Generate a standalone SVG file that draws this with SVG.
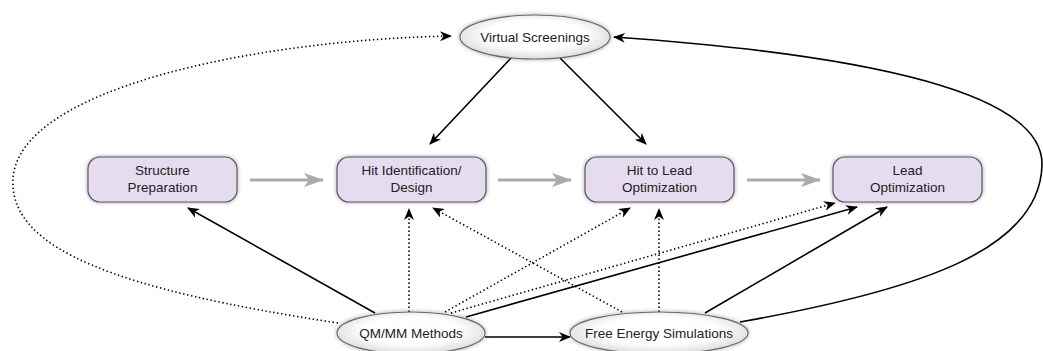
<svg xmlns="http://www.w3.org/2000/svg" width="1043" height="351" viewBox="0 0 1043 351">
  <defs>
    <style>
      .box { fill: #e6dcf0; stroke: #5a5560; stroke-width: 1.2; filter: url(#glow); }
      .oval { fill: url(#ovalFill); stroke: #6a6a6a; stroke-width: 1.2; filter: url(#glow); }
      .lbl { font-family: "Liberation Sans", Arial, sans-serif; font-size: 13.5px; fill: #222; text-anchor: middle; }
      .solid { fill: none; stroke: #000; stroke-width: 1.6; marker-end: url(#head); }
      .dot { fill: none; stroke: #000; stroke-width: 1.6; stroke-dasharray: 1.4 2.6; marker-end: url(#head); }
      .flow { fill: none; stroke: #ababab; stroke-width: 3; marker-end: url(#grayHead); }
    </style>
    <radialGradient id="ovalFill" cx="50%" cy="45%" r="55%">
      <stop offset="0.6" stop-color="#ffffff"/>
      <stop offset="1" stop-color="#dcdcdc"/>
    </radialGradient>
    <filter id="glow" x="-20%" y="-40%" width="140%" height="180%">
      <feGaussianBlur in="SourceAlpha" stdDeviation="2"/>
      <feComponentTransfer><feFuncA type="linear" slope="0.35"/></feComponentTransfer>
      <feMerge><feMergeNode/><feMergeNode in="SourceGraphic"/></feMerge>
    </filter>
    <marker id="head" viewBox="0 0 12 10" refX="11" refY="5" markerWidth="12" markerHeight="10" markerUnits="userSpaceOnUse" orient="auto">
      <path d="M0,0 L12,5 L0,10 L3.5,5 z" fill="#000"/>
    </marker>
    <marker id="grayHead" viewBox="0 0 20 14" refX="19" refY="7" markerWidth="20" markerHeight="14" markerUnits="userSpaceOnUse" orient="auto">
      <path d="M0,0 L20,7 L0,14 L5,7 z" fill="#ababab"/>
    </marker>
  </defs>

  <!-- connectors -->
  <g id="connectors">
    <!-- pipeline flow -->
    <line class="flow" x1="250" y1="180" x2="323" y2="180"/>
    <line class="flow" x1="498" y1="180" x2="571" y2="180"/>
    <line class="flow" x1="747" y1="180" x2="820" y2="180"/>
    <!-- from Virtual Screenings -->
    <line class="solid" x1="511" y1="58" x2="430" y2="144"/>
    <line class="solid" x1="560" y1="58" x2="646" y2="144"/>
    <!-- from QM/MM Methods -->
    <line class="solid" x1="375" y1="313" x2="188" y2="208"/>
    <line class="dot" x1="409" y1="312" x2="409" y2="209"/>
    <line class="dot" x1="445" y1="312" x2="630" y2="208"/>
    <line class="dot" x1="451" y1="313" x2="835" y2="203"/>
    <line class="solid" x1="466" y1="317" x2="857" y2="207"/>
    <line class="solid" x1="485" y1="337" x2="570" y2="337"/>
    <path class="dot" d="M338,323 C120,290 10,250 13,180 C16,90 250,40 451,36"/>
    <!-- from Free Energy Simulations -->
    <line class="dot" x1="622" y1="312" x2="433" y2="208"/>
    <line class="dot" x1="659" y1="312" x2="659" y2="209"/>
    <line class="solid" x1="705" y1="313" x2="887" y2="207"/>
    <path class="solid" d="M740,322 C920,290 1040,250 1042,165 C1044,80 800,50 614,37"/>
  </g>

  <g id="virtual-screenings">
    <ellipse class="oval" cx="535" cy="37" rx="75" ry="22"/>
    <text class="lbl" x="535" y="42">Virtual Screenings</text>
  </g>

  <g id="structure-preparation">
    <rect class="box" x="88" y="157" width="149" height="45" rx="12"/>
    <text class="lbl" x="162.5" y="175">Structure</text>
    <text class="lbl" x="162.5" y="192">Preparation</text>
  </g>

  <g id="hit-identification">
    <rect class="box" x="337" y="157" width="149" height="45" rx="12"/>
    <text class="lbl" x="411.5" y="175">Hit Identification/</text>
    <text class="lbl" x="411.5" y="192">Design</text>
  </g>

  <g id="hit-to-lead">
    <rect class="box" x="585" y="157" width="149" height="45" rx="12"/>
    <text class="lbl" x="659.5" y="175">Hit to Lead</text>
    <text class="lbl" x="659.5" y="192">Optimization</text>
  </g>

  <g id="lead-optimization">
    <rect class="box" x="833" y="157" width="149" height="45" rx="12"/>
    <text class="lbl" x="907.5" y="175">Lead</text>
    <text class="lbl" x="907.5" y="192">Optimization</text>
  </g>

  <g id="qmmm-methods">
    <ellipse class="oval" cx="411" cy="333" rx="74" ry="21"/>
    <text class="lbl" x="411" y="338">QM/MM Methods</text>
  </g>

  <g id="free-energy-simulations">
    <ellipse class="oval" cx="659" cy="333" rx="89" ry="21"/>
    <text class="lbl" x="659" y="338">Free Energy Simulations</text>
  </g>
</svg>
